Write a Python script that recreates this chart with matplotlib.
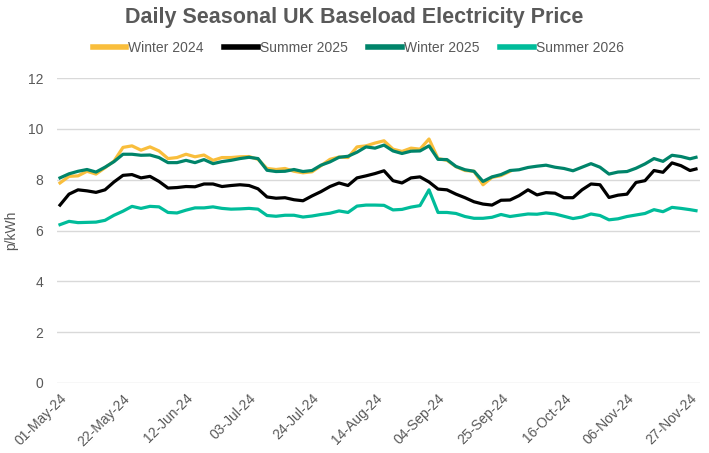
import pandas as pd
import matplotlib
matplotlib.use("Agg")
import matplotlib.pyplot as plt

plt.rcParams['font.family'] = ['Liberation Sans', 'DejaVu Sans']

# sample days (offset from 01-May-24), every 3 days
day_offsets = list(range(0, 211, 3)) + [212]
dates = pd.Timestamp('2024-05-01') + pd.to_timedelta(day_offsets, unit='D')

# p/kWh
winter_2024 = [7.87, 8.13, 8.15, 8.33, 8.22, 8.47, 8.73, 9.27, 9.33, 9.16,
               9.29, 9.13, 8.83, 8.87, 9.00, 8.90, 8.97, 8.76, 8.87, 8.87,
               8.90, 8.91, 8.80, 8.44, 8.40, 8.44, 8.33, 8.27, 8.31, 8.55,
               8.80, 8.89, 8.87, 9.29, 9.33, 9.44, 9.53, 9.20, 9.11, 9.24,
               9.20, 9.60, 8.83, 8.76, 8.51, 8.36, 8.33, 7.80, 8.09, 8.16,
               8.33]
summer_2025 = [7.00, 7.43, 7.60, 7.56, 7.50, 7.60, 7.91, 8.17, 8.20, 8.07,
               8.13, 7.93, 7.67, 7.69, 7.73, 7.72, 7.83, 7.83, 7.73, 7.77,
               7.80, 7.77, 7.64, 7.32, 7.27, 7.29, 7.21, 7.17, 7.36, 7.53,
               7.73, 7.87, 7.77, 8.07, 8.15, 8.24, 8.35, 7.96, 7.87, 8.07,
               8.11, 7.91, 7.63, 7.60, 7.43, 7.29, 7.13, 7.04, 7.00, 7.19,
               7.20, 7.37, 7.60, 7.40, 7.49, 7.47, 7.29, 7.29, 7.60, 7.83,
               7.80, 7.30, 7.39, 7.43, 7.89, 7.96, 8.36, 8.29, 8.66, 8.55,
               8.36, 8.42]
winter_2025 = [8.07, 8.23, 8.33, 8.40, 8.30, 8.49, 8.71, 9.00, 9.00, 8.96,
               8.97, 8.87, 8.67, 8.67, 8.76, 8.67, 8.79, 8.63, 8.71, 8.76,
               8.83, 8.88, 8.83, 8.37, 8.32, 8.33, 8.40, 8.32, 8.36, 8.57,
               8.70, 8.88, 8.92, 9.08, 9.29, 9.24, 9.36, 9.13, 9.03, 9.12,
               9.13, 9.33, 8.80, 8.79, 8.52, 8.39, 8.33, 7.93, 8.11, 8.20,
               8.36, 8.39, 8.48, 8.53, 8.57, 8.49, 8.44, 8.35, 8.49, 8.63,
               8.49, 8.22, 8.30, 8.32, 8.45, 8.62, 8.83, 8.72, 8.96, 8.91,
               8.82, 8.88]
summer_2026 = [6.23, 6.36, 6.31, 6.32, 6.33, 6.40, 6.60, 6.76, 6.95, 6.87,
               6.95, 6.93, 6.71, 6.69, 6.80, 6.89, 6.89, 6.93, 6.87, 6.84,
               6.85, 6.87, 6.84, 6.59, 6.56, 6.60, 6.60, 6.53, 6.57, 6.63,
               6.68, 6.77, 6.71, 6.96, 7.00, 7.00, 6.99, 6.81, 6.83, 6.92,
               6.98, 7.60, 6.71, 6.71, 6.67, 6.55, 6.48, 6.48, 6.52, 6.63,
               6.55, 6.60, 6.65, 6.64, 6.69, 6.65, 6.56, 6.47, 6.53, 6.65,
               6.59, 6.42, 6.46, 6.55, 6.61, 6.67, 6.82, 6.74, 6.91, 6.87,
               6.82, 6.78]

tick_dates = pd.Timestamp('2024-05-01') + pd.to_timedelta(list(range(0, 211, 21)), unit='D')

grey = '#595959'
fig = plt.figure(figsize=(7.09, 4.53), dpi=100)
ax = fig.add_axes([57 / 709, 1 - 383 / 453, 643 / 709, 305 / 453])

ax.plot(dates[:len(winter_2024)], winter_2024, color='#F9BE3C', lw=2.3, label='Winter 2024')
ax.plot(dates, summer_2025, color='#000000', lw=2.3, label='Summer 2025')
ax.plot(dates, winter_2025, color='#00846A', lw=2.3, label='Winter 2025')
ax.plot(dates, summer_2026, color='#00BC9A', lw=2.3, label='Summer 2026')

ax.set_ylim(0, 12)
ax.set_yticks(range(0, 13, 2))
ax.set_xlim(pd.Timestamp('2024-04-30'), pd.Timestamp('2024-11-30 08:00'))
ax.set_xticks(tick_dates)
ax.set_xticklabels([t.strftime('%d-%b-%y') for t in tick_dates], rotation=45,
                   ha='right', rotation_mode='anchor')
ax.tick_params(axis='both', length=0, labelsize=10, labelcolor=grey)
ax.tick_params(axis='y', pad=10)
ax.tick_params(axis='x', pad=6)
ax.grid(axis='y', color='#D9D9D9', lw=1)
ax.set_axisbelow(True)
for s in ax.spines.values():
    s.set_visible(False)
ax.set_ylabel('p/kWh', fontsize=10, color=grey)
ax.yaxis.set_label_coords((18 - 57) / 643, 0.5)

fig.text(0.5, 1 - 17 / 453, 'Daily Seasonal UK Baseload Electricity Price',
         ha='center', va='center', fontsize=15.5, fontweight='bold', color=grey)
leg = fig.legend(loc='center', bbox_to_anchor=(358 / 709, 1 - 48 / 453), ncol=4,
                 frameon=False, fontsize=10, handlelength=2.4, handletextpad=0.15,
                 columnspacing=1.5, labelcolor=grey)
for h in leg.legend_handles:
    h.set_linewidth(4)

fig.savefig('out.png', dpi=100)
